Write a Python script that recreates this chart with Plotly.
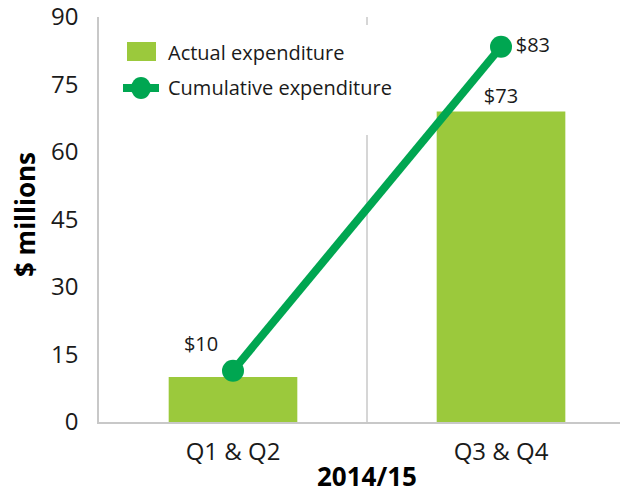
import plotly.graph_objects as go

categories = ["Q1 & Q2", "Q3 & Q4"]
actual = [10, 69]
cumulative = [11.4, 83.4]
bar_labels = ["", "$73"]
line_labels = ["$10", "$83"]
y_ticks = [0, 15, 30, 45, 60, 75, 90]

BAR = "#9BC93C"
LINE = "#00A651"
FONT = "Open Sans"
TXT = "#1a1a1a"

W, H = 620, 493
L, R, T, B = 99, 0, 17, 71
PW, PH = W - L - R, H - T - B


def px(x):
    return (x - L) / PW


def py(y):
    return (H - B - y) / PH


fig = go.Figure()
fig.add_trace(go.Bar(
    x=[0, 1], y=actual, width=0.48, marker_color=BAR, marker_line_width=0,
    text=bar_labels, textposition="outside", cliponaxis=False,
    textfont=dict(family=FONT, size=20, color=TXT), name="Actual expenditure",
))
fig.add_trace(go.Scatter(
    x=[0, 1], y=cumulative, mode="lines+markers+text",
    line=dict(color=LINE, width=8), marker=dict(color=LINE, size=22),
    text=line_labels, textposition=["top left", "middle right"], cliponaxis=False,
    textfont=dict(family=FONT, size=20, color=TXT), name="Cumulative expenditure",
))

shapes = [
    # category separator
    dict(type="line", xref="x", yref="paper", x0=0.5, x1=0.5, y0=0, y1=1,
         line=dict(color="#C8C8C8", width=1.5), layer="below"),
    # legend background
    dict(type="rect", xref="paper", yref="paper", x0=px(110), x1=px(395), y0=py(135), y1=py(25),
         fillcolor="white", line_width=0, layer="below"),
    # legend swatches
    dict(type="rect", xref="paper", yref="paper", x0=px(127), x1=px(156), y0=py(61), y1=py(42),
         fillcolor=BAR, line_width=0, layer="above"),
    dict(type="line", xref="paper", yref="paper", x0=px(123), x1=px(159), y0=py(88), y1=py(88),
         line=dict(color=LINE, width=8), layer="above"),
    dict(type="circle", xref="paper", yref="paper", x0=px(131), x1=px(151), y0=py(99), y1=py(77),
         fillcolor=LINE, line_width=0, layer="above"),
]

annotations = [
    dict(text="Actual expenditure", xref="paper", yref="paper", x=px(166), y=py(52),
         xanchor="left", yanchor="middle", showarrow=False, font=dict(family=FONT, size=20, color=TXT)),
    dict(text="Cumulative expenditure", xref="paper", yref="paper", x=px(166), y=py(88),
         xanchor="left", yanchor="middle", showarrow=False, font=dict(family=FONT, size=20, color=TXT)),
    dict(text="<b>$ millions</b>", xref="paper", yref="paper", x=px(25), y=py(215), textangle=-90,
         xanchor="center", yanchor="middle", showarrow=False, font=dict(family=FONT, size=26, color="black")),
    dict(text="<b>2014/15</b>", xref="paper", yref="paper", x=px(367), y=py(476),
         xanchor="center", yanchor="middle", showarrow=False, font=dict(family=FONT, size=26, color="black")),
]

fig.update_layout(
    width=W, height=H, margin=dict(l=L, r=R, t=T, b=B),
    plot_bgcolor="white", paper_bgcolor="white", showlegend=False,
    shapes=shapes, annotations=annotations,
    xaxis=dict(range=[-0.5, 1.444], tickvals=[0, 1], ticktext=categories,
               showgrid=False, zeroline=False, showline=True, linecolor="#C8C8C8", linewidth=2,
               ticks="outside", ticklen=7, tickcolor="rgba(0,0,0,0)",
               tickfont=dict(family=FONT, size=24, color=TXT), fixedrange=True),
    yaxis=dict(range=[0, 90], tickvals=y_ticks, showgrid=False, zeroline=False,
               showline=True, linecolor="#C8C8C8", linewidth=1.5, ticks="",
               ticklabelstandoff=14, ticklabeloverflow="allow",
               tickfont=dict(family=FONT, size=24, color=TXT), fixedrange=True),
)

fig.write_html("out.html", config={"displayModeBar": False},
               post_script="document.body.style.margin='0px';document.body.style.overflow='hidden';")
